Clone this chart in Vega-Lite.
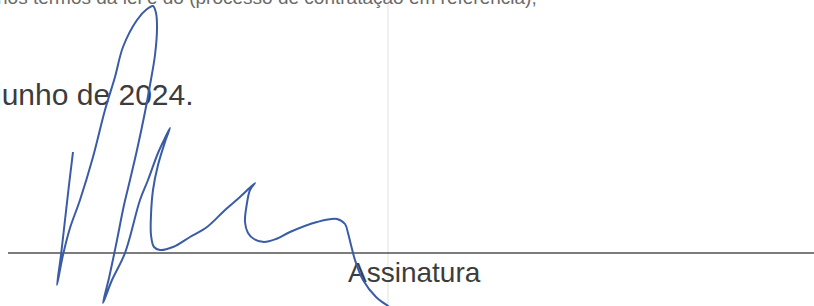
{
  "$schema": "https://vega.github.io/schema/vega-lite/v6.json",
  "width": 814,
  "height": 306,
  "autosize": {"type": "none"},
  "padding": 0,
  "background": "#ffffff",
  "config": {"view": {"stroke": null}},
  "datasets": {
    "signature": [
      {"i": 1, "x": 73, "y": 152},
      {"i": 2, "x": 69, "y": 185},
      {"i": 3, "x": 65, "y": 220},
      {"i": 4, "x": 61, "y": 255},
      {"i": 5, "x": 57, "y": 285},
      {"i": 6, "x": 63, "y": 255},
      {"i": 7, "x": 70, "y": 228},
      {"i": 8, "x": 80, "y": 200},
      {"i": 9, "x": 93, "y": 157},
      {"i": 10, "x": 105, "y": 110},
      {"i": 11, "x": 115, "y": 77},
      {"i": 12, "x": 123, "y": 47},
      {"i": 13, "x": 137, "y": 20},
      {"i": 14, "x": 147, "y": 9},
      {"i": 15, "x": 153, "y": 6},
      {"i": 16, "x": 156, "y": 13},
      {"i": 17, "x": 157, "y": 28},
      {"i": 18, "x": 155, "y": 55},
      {"i": 19, "x": 150, "y": 85},
      {"i": 20, "x": 145, "y": 112},
      {"i": 21, "x": 137, "y": 150},
      {"i": 22, "x": 130, "y": 180},
      {"i": 23, "x": 124, "y": 205},
      {"i": 24, "x": 116, "y": 245},
      {"i": 25, "x": 109, "y": 278},
      {"i": 26, "x": 103, "y": 303},
      {"i": 27, "x": 112, "y": 280},
      {"i": 28, "x": 125, "y": 253},
      {"i": 29, "x": 140, "y": 200},
      {"i": 30, "x": 148, "y": 180},
      {"i": 31, "x": 158, "y": 153},
      {"i": 32, "x": 165, "y": 138},
      {"i": 33, "x": 170, "y": 128},
      {"i": 34, "x": 165, "y": 142},
      {"i": 35, "x": 158, "y": 165},
      {"i": 36, "x": 153, "y": 190},
      {"i": 37, "x": 151, "y": 215},
      {"i": 38, "x": 151, "y": 235},
      {"i": 39, "x": 154, "y": 247},
      {"i": 40, "x": 160, "y": 250},
      {"i": 41, "x": 173, "y": 247},
      {"i": 42, "x": 190, "y": 237},
      {"i": 43, "x": 207, "y": 227},
      {"i": 44, "x": 225, "y": 210},
      {"i": 45, "x": 240, "y": 197},
      {"i": 46, "x": 255, "y": 183},
      {"i": 47, "x": 250, "y": 190},
      {"i": 48, "x": 247, "y": 203},
      {"i": 49, "x": 245, "y": 222},
      {"i": 50, "x": 248, "y": 233},
      {"i": 51, "x": 254, "y": 239},
      {"i": 52, "x": 264, "y": 242},
      {"i": 53, "x": 276, "y": 239},
      {"i": 54, "x": 290, "y": 232},
      {"i": 55, "x": 317, "y": 222},
      {"i": 56, "x": 337, "y": 219},
      {"i": 57, "x": 345, "y": 224},
      {"i": 58, "x": 348, "y": 233},
      {"i": 59, "x": 351, "y": 245},
      {"i": 60, "x": 355, "y": 260},
      {"i": 61, "x": 363, "y": 280},
      {"i": 62, "x": 376, "y": 297},
      {"i": 63, "x": 388, "y": 306},
      {"i": 64, "x": 394, "y": 310}
    ]
  },
  "layer": [
    {
      "data": {"values": [{"x": 388}]},
      "mark": {"type": "rule", "color": "#f0f0f0", "strokeWidth": 2},
      "encoding": {
        "x": {"field": "x", "type": "quantitative", "scale": {"domain": [0, 814], "nice": false, "zero": false}, "axis": null}
      }
    },
    {
      "data": {"values": [{"x": 8, "x2": 814, "y": 253}]},
      "mark": {"type": "rule", "color": "#505050", "strokeWidth": 1.6},
      "encoding": {
        "x": {"field": "x", "type": "quantitative", "scale": {"domain": [0, 814], "nice": false, "zero": false}, "axis": null},
        "x2": {"field": "x2"},
        "y": {"field": "y", "type": "quantitative", "scale": {"domain": [306, 0], "nice": false, "zero": false}, "axis": null}
      }
    },
    {
      "data": {"values": [{"x": -3, "y": 4, "t": "nos termos da lei e do (processo de contratação em referência);"}]},
      "mark": {"type": "text", "align": "left", "baseline": "alphabetic", "font": "Liberation Sans", "fontSize": 19, "color": "#6a6a6a"},
      "encoding": {
        "x": {"field": "x", "type": "quantitative", "scale": {"domain": [0, 814], "nice": false, "zero": false}, "axis": null},
        "y": {"field": "y", "type": "quantitative", "scale": {"domain": [306, 0], "nice": false, "zero": false}, "axis": null},
        "text": {"field": "t"}
      }
    },
    {
      "data": {"values": [{"x": -5, "y": 105, "t": "junho de 2024."}]},
      "mark": {"type": "text", "align": "left", "baseline": "alphabetic", "font": "Liberation Sans", "fontSize": 30, "color": "#3c3c3c"},
      "encoding": {
        "x": {"field": "x", "type": "quantitative", "scale": {"domain": [0, 814], "nice": false, "zero": false}, "axis": null},
        "y": {"field": "y", "type": "quantitative", "scale": {"domain": [306, 0], "nice": false, "zero": false}, "axis": null},
        "text": {"field": "t"}
      }
    },
    {
      "data": {"values": [{"x": 348, "y": 282, "t": "Assinatura"}]},
      "mark": {"type": "text", "align": "left", "baseline": "alphabetic", "font": "Liberation Sans", "fontSize": 28, "color": "#3c3c3c"},
      "encoding": {
        "x": {"field": "x", "type": "quantitative", "scale": {"domain": [0, 814], "nice": false, "zero": false}, "axis": null},
        "y": {"field": "y", "type": "quantitative", "scale": {"domain": [306, 0], "nice": false, "zero": false}, "axis": null},
        "text": {"field": "t"}
      }
    },
    {
      "data": {"name": "signature"},
      "mark": {"type": "line", "color": "#3a5ba6", "strokeWidth": 2, "interpolate": "catmull-rom", "clip": true},
      "encoding": {
        "x": {"field": "x", "type": "quantitative", "scale": {"domain": [0, 814], "nice": false, "zero": false}, "axis": null},
        "y": {"field": "y", "type": "quantitative", "scale": {"domain": [306, 0], "nice": false, "zero": false}, "axis": null},
        "order": {"field": "i", "type": "quantitative"}
      }
    }
  ]
}
